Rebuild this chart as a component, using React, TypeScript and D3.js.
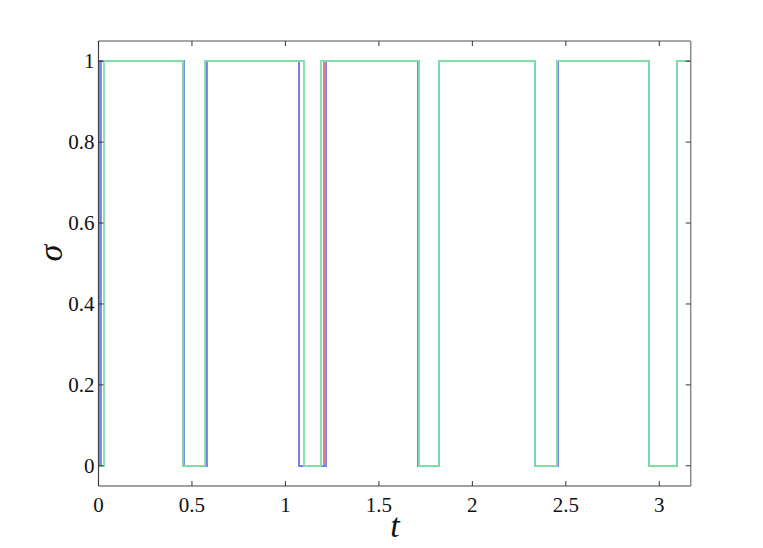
import React from "react";
import * as d3 from "d3";

// switching times of each sigma trace (all start at 0, toggle at each time)
const redSwitch = [0.015, 0.454, 0.575, 1.073, 1.208, 1.708, 1.823, 2.334, 2.457, 2.947, 3.097];
const blueSwitch = [0.008, 0.457, 0.579, 1.073, 1.217, 1.708, 1.823, 2.334, 2.459, 2.947, 3.097];
const greenSwitch = [0.031, 0.450, 0.572, 1.101, 1.189, 1.715, 1.821, 2.336, 2.455, 2.946, 3.096];

const xTicks = [0, 0.5, 1, 1.5, 2, 2.5, 3];
const yTicks = [0, 0.2, 0.4, 0.6, 0.8, 1];
const tMax = 3.168;

const seriesList = [
  { name: "red", color: "#ee6a6a", times: redSwitch },
  { name: "blue", color: "#6f80f2", times: blueSwitch },
  { name: "green", color: "#7ddfa8", times: greenSwitch },
];

const W = 763;
const H = 548;
const left = 98.5, right = 690.7, top = 41, bottom = 486;

function toSteps(times: number[]) {
  const pts: [number, number][] = [[0, 0]];
  let v = 0;
  times.forEach((t) => {
    v = 1 - v;
    pts.push([t, v]);
  });
  pts.push([tMax, v]);
  return pts;
}

export default function App() {
  const x = d3.scaleLinear().domain([0, tMax]).range([left, right]);
  const y = d3.scaleLinear().domain([-0.05, 1.05]).range([bottom, top]);

  // snapped to whole pixels so a 2px stroke fills exactly two pixel rows/columns
  const line = d3
    .line<[number, number]>()
    .x((d) => Math.round(x(d[0])))
    .y((d) => Math.round(y(d[1])))
    .curve(d3.curveStepAfter);

  const font = "'Liberation Serif', 'Times New Roman', Times, serif";

  return (
    <svg
      width={W}
      height={H}
      style={{ position: "absolute", left: 0, top: 0, background: "#fff" }}
    >
      {/* traces */}
      {seriesList.map((s) => (
        <path
          key={s.name}
          d={line(toSteps(s.times)) || ""}
          fill="none"
          stroke={s.color}
          strokeWidth={1.8}
        />
      ))}

      {/* axes box */}
      <line x1={left} x2={right} y1={top} y2={top} stroke="#8a8a8a" strokeWidth={1.5} />
      <line x1={right} x2={right} y1={top} y2={bottom} stroke="#8a8a8a" strokeWidth={1.5} />
      <line x1={left} x2={right} y1={bottom} y2={bottom} stroke="#444" strokeWidth={1.2} />
      <line x1={left} x2={left} y1={top} y2={bottom} stroke="#444" strokeWidth={1.2} />

      {/* x ticks */}
      {xTicks.map((t) => (
        <g key={"xt" + t}>
          <line x1={x(t)} x2={x(t)} y1={bottom} y2={bottom - 5} stroke="#333" />
          <line x1={x(t)} x2={x(t)} y1={top} y2={top + 5} stroke="#333" />
          <text
            x={x(t)}
            y={512}
            textAnchor="middle"
            fontFamily={font}
            fontSize={21}
            fill="#111"
          >
            {String(t)}
          </text>
        </g>
      ))}

      {/* y ticks */}
      {yTicks.map((t) => (
        <g key={"yt" + t}>
          <line x1={left} x2={left + 5} y1={y(t)} y2={y(t)} stroke="#333" />
          <line x1={right} x2={right - 5} y1={y(t)} y2={y(t)} stroke="#333" />
          <text
            x={left - 4}
            y={y(t) + 7}
            textAnchor="end"
            fontFamily={font}
            fontSize={21}
            fill="#111"
          >
            {String(t)}
          </text>
        </g>
      ))}

      {/* axis labels */}
      <text
        x={395}
        y={537}
        textAnchor="middle"
        fontFamily={font}
        fontStyle="italic"
        fontSize={34}
        fill="#111"
      >
        t
      </text>
      <text
        transform="translate(62,253) rotate(-90)"
        textAnchor="middle"
        fontFamily={font}
        fontStyle="italic"
        fontSize={34}
        fill="#111"
      >
        σ
      </text>
    </svg>
  );
}
